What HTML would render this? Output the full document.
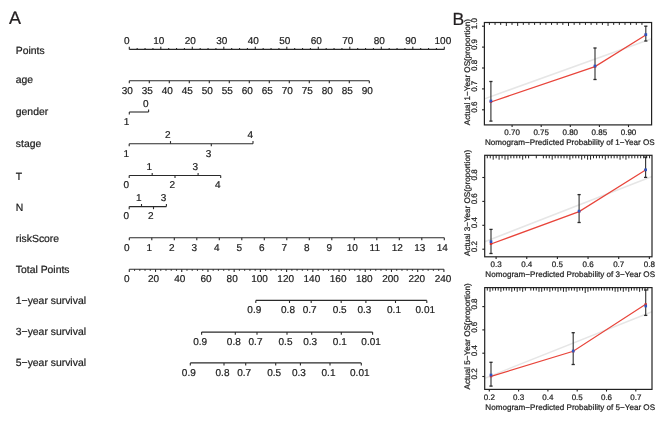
<!DOCTYPE html>
<html><head><meta charset="utf-8"><style>
html,body{margin:0;padding:0;background:#fff;}
body{width:669px;height:424px;overflow:hidden;}
svg{display:block;will-change:transform;text-rendering:geometricPrecision;font-family:"Liberation Sans",sans-serif;}
</style></head><body>
<svg width="669" height="424" viewBox="0 0 669 424">
<rect x="0" y="0" width="669" height="424" fill="#fff"/>
<g>
<text x="9.00" y="23.90" font-size="18" text-anchor="start" fill="#231f20" stroke="#231f20" stroke-width="0.22">A</text>
<text x="15.80" y="53.80" font-size="10.4" text-anchor="start" fill="#222" stroke="#222" stroke-width="0.22">Points</text>
<text x="15.80" y="83.30" font-size="10.4" text-anchor="start" fill="#222" stroke="#222" stroke-width="0.22">age</text>
<text x="15.80" y="115.30" font-size="10.4" text-anchor="start" fill="#222" stroke="#222" stroke-width="0.22">gender</text>
<text x="15.80" y="147.00" font-size="10.4" text-anchor="start" fill="#222" stroke="#222" stroke-width="0.22">stage</text>
<text x="15.80" y="179.50" font-size="10.4" text-anchor="start" fill="#222" stroke="#222" stroke-width="0.22">T</text>
<text x="15.80" y="210.60" font-size="10.4" text-anchor="start" fill="#222" stroke="#222" stroke-width="0.22">N</text>
<text x="15.80" y="242.10" font-size="10.4" text-anchor="start" fill="#222" stroke="#222" stroke-width="0.22">riskScore</text>
<text x="15.80" y="273.20" font-size="10.4" text-anchor="start" fill="#222" stroke="#222" stroke-width="0.22">Total Points</text>
<text x="15.80" y="303.70" font-size="10.4" text-anchor="start" fill="#222" stroke="#222" stroke-width="0.22">1−year survival</text>
<text x="15.80" y="334.90" font-size="10.4" text-anchor="start" fill="#222" stroke="#222" stroke-width="0.22">3−year survival</text>
<text x="15.80" y="366.30" font-size="10.4" text-anchor="start" fill="#222" stroke="#222" stroke-width="0.22">5−year survival</text>
<line x1="129.30" y1="49.40" x2="444.30" y2="49.40" stroke="#2a2a2a" stroke-width="1.1"/>
<line x1="129.30" y1="49.40" x2="129.30" y2="46.80" stroke="#2a2a2a" stroke-width="1.1"/>
<text x="126.70" y="44.00" font-size="10" text-anchor="middle" fill="#222" stroke="#222" stroke-width="0.22">0</text>
<line x1="137.18" y1="49.40" x2="137.18" y2="47.90" stroke="#2a2a2a" stroke-width="1.1"/>
<line x1="145.05" y1="49.40" x2="145.05" y2="47.90" stroke="#2a2a2a" stroke-width="1.1"/>
<line x1="152.93" y1="49.40" x2="152.93" y2="47.90" stroke="#2a2a2a" stroke-width="1.1"/>
<line x1="160.80" y1="49.40" x2="160.80" y2="46.80" stroke="#2a2a2a" stroke-width="1.1"/>
<text x="158.80" y="44.00" font-size="10" text-anchor="middle" fill="#222" stroke="#222" stroke-width="0.22">10</text>
<line x1="168.68" y1="49.40" x2="168.68" y2="47.90" stroke="#2a2a2a" stroke-width="1.1"/>
<line x1="176.55" y1="49.40" x2="176.55" y2="47.90" stroke="#2a2a2a" stroke-width="1.1"/>
<line x1="184.43" y1="49.40" x2="184.43" y2="47.90" stroke="#2a2a2a" stroke-width="1.1"/>
<line x1="192.30" y1="49.40" x2="192.30" y2="46.80" stroke="#2a2a2a" stroke-width="1.1"/>
<text x="190.30" y="44.00" font-size="10" text-anchor="middle" fill="#222" stroke="#222" stroke-width="0.22">20</text>
<line x1="200.18" y1="49.40" x2="200.18" y2="47.90" stroke="#2a2a2a" stroke-width="1.1"/>
<line x1="208.05" y1="49.40" x2="208.05" y2="47.90" stroke="#2a2a2a" stroke-width="1.1"/>
<line x1="215.93" y1="49.40" x2="215.93" y2="47.90" stroke="#2a2a2a" stroke-width="1.1"/>
<line x1="223.80" y1="49.40" x2="223.80" y2="46.80" stroke="#2a2a2a" stroke-width="1.1"/>
<text x="221.80" y="44.00" font-size="10" text-anchor="middle" fill="#222" stroke="#222" stroke-width="0.22">30</text>
<line x1="231.68" y1="49.40" x2="231.68" y2="47.90" stroke="#2a2a2a" stroke-width="1.1"/>
<line x1="239.55" y1="49.40" x2="239.55" y2="47.90" stroke="#2a2a2a" stroke-width="1.1"/>
<line x1="247.43" y1="49.40" x2="247.43" y2="47.90" stroke="#2a2a2a" stroke-width="1.1"/>
<line x1="255.30" y1="49.40" x2="255.30" y2="46.80" stroke="#2a2a2a" stroke-width="1.1"/>
<text x="253.30" y="44.00" font-size="10" text-anchor="middle" fill="#222" stroke="#222" stroke-width="0.22">40</text>
<line x1="263.18" y1="49.40" x2="263.18" y2="47.90" stroke="#2a2a2a" stroke-width="1.1"/>
<line x1="271.05" y1="49.40" x2="271.05" y2="47.90" stroke="#2a2a2a" stroke-width="1.1"/>
<line x1="278.93" y1="49.40" x2="278.93" y2="47.90" stroke="#2a2a2a" stroke-width="1.1"/>
<line x1="286.80" y1="49.40" x2="286.80" y2="46.80" stroke="#2a2a2a" stroke-width="1.1"/>
<text x="284.80" y="44.00" font-size="10" text-anchor="middle" fill="#222" stroke="#222" stroke-width="0.22">50</text>
<line x1="294.68" y1="49.40" x2="294.68" y2="47.90" stroke="#2a2a2a" stroke-width="1.1"/>
<line x1="302.55" y1="49.40" x2="302.55" y2="47.90" stroke="#2a2a2a" stroke-width="1.1"/>
<line x1="310.43" y1="49.40" x2="310.43" y2="47.90" stroke="#2a2a2a" stroke-width="1.1"/>
<line x1="318.30" y1="49.40" x2="318.30" y2="46.80" stroke="#2a2a2a" stroke-width="1.1"/>
<text x="316.30" y="44.00" font-size="10" text-anchor="middle" fill="#222" stroke="#222" stroke-width="0.22">60</text>
<line x1="326.18" y1="49.40" x2="326.18" y2="47.90" stroke="#2a2a2a" stroke-width="1.1"/>
<line x1="334.05" y1="49.40" x2="334.05" y2="47.90" stroke="#2a2a2a" stroke-width="1.1"/>
<line x1="341.93" y1="49.40" x2="341.93" y2="47.90" stroke="#2a2a2a" stroke-width="1.1"/>
<line x1="349.80" y1="49.40" x2="349.80" y2="46.80" stroke="#2a2a2a" stroke-width="1.1"/>
<text x="347.80" y="44.00" font-size="10" text-anchor="middle" fill="#222" stroke="#222" stroke-width="0.22">70</text>
<line x1="357.68" y1="49.40" x2="357.68" y2="47.90" stroke="#2a2a2a" stroke-width="1.1"/>
<line x1="365.55" y1="49.40" x2="365.55" y2="47.90" stroke="#2a2a2a" stroke-width="1.1"/>
<line x1="373.43" y1="49.40" x2="373.43" y2="47.90" stroke="#2a2a2a" stroke-width="1.1"/>
<line x1="381.30" y1="49.40" x2="381.30" y2="46.80" stroke="#2a2a2a" stroke-width="1.1"/>
<text x="379.30" y="44.00" font-size="10" text-anchor="middle" fill="#222" stroke="#222" stroke-width="0.22">80</text>
<line x1="389.18" y1="49.40" x2="389.18" y2="47.90" stroke="#2a2a2a" stroke-width="1.1"/>
<line x1="397.05" y1="49.40" x2="397.05" y2="47.90" stroke="#2a2a2a" stroke-width="1.1"/>
<line x1="404.93" y1="49.40" x2="404.93" y2="47.90" stroke="#2a2a2a" stroke-width="1.1"/>
<line x1="412.80" y1="49.40" x2="412.80" y2="46.80" stroke="#2a2a2a" stroke-width="1.1"/>
<text x="410.80" y="44.00" font-size="10" text-anchor="middle" fill="#222" stroke="#222" stroke-width="0.22">90</text>
<line x1="420.68" y1="49.40" x2="420.68" y2="47.90" stroke="#2a2a2a" stroke-width="1.1"/>
<line x1="428.55" y1="49.40" x2="428.55" y2="47.90" stroke="#2a2a2a" stroke-width="1.1"/>
<line x1="436.43" y1="49.40" x2="436.43" y2="47.90" stroke="#2a2a2a" stroke-width="1.1"/>
<line x1="444.30" y1="49.40" x2="444.30" y2="46.80" stroke="#2a2a2a" stroke-width="1.1"/>
<text x="442.90" y="44.00" font-size="10" text-anchor="middle" fill="#222" stroke="#222" stroke-width="0.22">100</text>
<line x1="129.30" y1="80.70" x2="369.30" y2="80.70" stroke="#2a2a2a" stroke-width="1.1"/>
<line x1="129.30" y1="80.70" x2="129.30" y2="83.30" stroke="#2a2a2a" stroke-width="1.1"/>
<text x="127.30" y="93.90" font-size="10" text-anchor="middle" fill="#222" stroke="#222" stroke-width="0.22">30</text>
<line x1="149.30" y1="80.70" x2="149.30" y2="83.30" stroke="#2a2a2a" stroke-width="1.1"/>
<text x="147.30" y="93.90" font-size="10" text-anchor="middle" fill="#222" stroke="#222" stroke-width="0.22">35</text>
<line x1="169.30" y1="80.70" x2="169.30" y2="83.30" stroke="#2a2a2a" stroke-width="1.1"/>
<text x="167.30" y="93.90" font-size="10" text-anchor="middle" fill="#222" stroke="#222" stroke-width="0.22">40</text>
<line x1="189.30" y1="80.70" x2="189.30" y2="83.30" stroke="#2a2a2a" stroke-width="1.1"/>
<text x="187.30" y="93.90" font-size="10" text-anchor="middle" fill="#222" stroke="#222" stroke-width="0.22">45</text>
<line x1="209.30" y1="80.70" x2="209.30" y2="83.30" stroke="#2a2a2a" stroke-width="1.1"/>
<text x="207.30" y="93.90" font-size="10" text-anchor="middle" fill="#222" stroke="#222" stroke-width="0.22">50</text>
<line x1="229.30" y1="80.70" x2="229.30" y2="83.30" stroke="#2a2a2a" stroke-width="1.1"/>
<text x="227.30" y="93.90" font-size="10" text-anchor="middle" fill="#222" stroke="#222" stroke-width="0.22">55</text>
<line x1="249.30" y1="80.70" x2="249.30" y2="83.30" stroke="#2a2a2a" stroke-width="1.1"/>
<text x="247.30" y="93.90" font-size="10" text-anchor="middle" fill="#222" stroke="#222" stroke-width="0.22">60</text>
<line x1="269.30" y1="80.70" x2="269.30" y2="83.30" stroke="#2a2a2a" stroke-width="1.1"/>
<text x="267.30" y="93.90" font-size="10" text-anchor="middle" fill="#222" stroke="#222" stroke-width="0.22">65</text>
<line x1="289.30" y1="80.70" x2="289.30" y2="83.30" stroke="#2a2a2a" stroke-width="1.1"/>
<text x="287.30" y="93.90" font-size="10" text-anchor="middle" fill="#222" stroke="#222" stroke-width="0.22">70</text>
<line x1="309.30" y1="80.70" x2="309.30" y2="83.30" stroke="#2a2a2a" stroke-width="1.1"/>
<text x="307.30" y="93.90" font-size="10" text-anchor="middle" fill="#222" stroke="#222" stroke-width="0.22">75</text>
<line x1="329.30" y1="80.70" x2="329.30" y2="83.30" stroke="#2a2a2a" stroke-width="1.1"/>
<text x="327.30" y="93.90" font-size="10" text-anchor="middle" fill="#222" stroke="#222" stroke-width="0.22">80</text>
<line x1="349.30" y1="80.70" x2="349.30" y2="83.30" stroke="#2a2a2a" stroke-width="1.1"/>
<text x="347.30" y="93.90" font-size="10" text-anchor="middle" fill="#222" stroke="#222" stroke-width="0.22">85</text>
<line x1="369.30" y1="80.70" x2="369.30" y2="83.30" stroke="#2a2a2a" stroke-width="1.1"/>
<text x="367.30" y="93.90" font-size="10" text-anchor="middle" fill="#222" stroke="#222" stroke-width="0.22">90</text>
<line x1="129.30" y1="112.00" x2="148.60" y2="112.00" stroke="#2a2a2a" stroke-width="1.1"/>
<line x1="129.30" y1="112.00" x2="129.30" y2="114.60" stroke="#2a2a2a" stroke-width="1.1"/>
<text x="126.50" y="124.60" font-size="10" text-anchor="middle" fill="#222" stroke="#222" stroke-width="0.22">1</text>
<line x1="148.60" y1="112.00" x2="148.60" y2="109.40" stroke="#2a2a2a" stroke-width="1.1"/>
<text x="145.80" y="106.60" font-size="10" text-anchor="middle" fill="#222" stroke="#222" stroke-width="0.22">0</text>
<line x1="129.20" y1="143.70" x2="253.00" y2="143.70" stroke="#2a2a2a" stroke-width="1.1"/>
<line x1="129.20" y1="143.70" x2="129.20" y2="146.30" stroke="#2a2a2a" stroke-width="1.1"/>
<text x="126.40" y="156.50" font-size="10" text-anchor="middle" fill="#222" stroke="#222" stroke-width="0.22">1</text>
<line x1="170.50" y1="143.70" x2="170.50" y2="141.10" stroke="#2a2a2a" stroke-width="1.1"/>
<text x="167.70" y="137.80" font-size="10" text-anchor="middle" fill="#222" stroke="#222" stroke-width="0.22">2</text>
<line x1="211.30" y1="143.70" x2="211.30" y2="146.30" stroke="#2a2a2a" stroke-width="1.1"/>
<text x="208.50" y="156.50" font-size="10" text-anchor="middle" fill="#222" stroke="#222" stroke-width="0.22">3</text>
<line x1="253.00" y1="143.70" x2="253.00" y2="141.10" stroke="#2a2a2a" stroke-width="1.1"/>
<text x="250.20" y="137.80" font-size="10" text-anchor="middle" fill="#222" stroke="#222" stroke-width="0.22">4</text>
<line x1="129.20" y1="175.50" x2="220.70" y2="175.50" stroke="#2a2a2a" stroke-width="1.1"/>
<line x1="129.20" y1="175.50" x2="129.20" y2="178.10" stroke="#2a2a2a" stroke-width="1.1"/>
<text x="126.40" y="188.10" font-size="10" text-anchor="middle" fill="#222" stroke="#222" stroke-width="0.22">0</text>
<line x1="152.20" y1="175.50" x2="152.20" y2="172.90" stroke="#2a2a2a" stroke-width="1.1"/>
<text x="149.40" y="169.60" font-size="10" text-anchor="middle" fill="#222" stroke="#222" stroke-width="0.22">1</text>
<line x1="175.00" y1="175.50" x2="175.00" y2="178.10" stroke="#2a2a2a" stroke-width="1.1"/>
<text x="172.20" y="188.10" font-size="10" text-anchor="middle" fill="#222" stroke="#222" stroke-width="0.22">2</text>
<line x1="198.10" y1="175.50" x2="198.10" y2="172.90" stroke="#2a2a2a" stroke-width="1.1"/>
<text x="195.30" y="169.60" font-size="10" text-anchor="middle" fill="#222" stroke="#222" stroke-width="0.22">3</text>
<line x1="220.70" y1="175.50" x2="220.70" y2="178.10" stroke="#2a2a2a" stroke-width="1.1"/>
<text x="217.90" y="188.10" font-size="10" text-anchor="middle" fill="#222" stroke="#222" stroke-width="0.22">4</text>
<line x1="129.20" y1="206.60" x2="166.40" y2="206.60" stroke="#2a2a2a" stroke-width="1.1"/>
<line x1="129.20" y1="206.60" x2="129.20" y2="209.20" stroke="#2a2a2a" stroke-width="1.1"/>
<text x="126.40" y="219.10" font-size="10" text-anchor="middle" fill="#222" stroke="#222" stroke-width="0.22">0</text>
<line x1="141.50" y1="206.60" x2="141.50" y2="204.00" stroke="#2a2a2a" stroke-width="1.1"/>
<text x="138.70" y="201.20" font-size="10" text-anchor="middle" fill="#222" stroke="#222" stroke-width="0.22">1</text>
<line x1="153.50" y1="206.60" x2="153.50" y2="209.20" stroke="#2a2a2a" stroke-width="1.1"/>
<text x="150.70" y="219.10" font-size="10" text-anchor="middle" fill="#222" stroke="#222" stroke-width="0.22">2</text>
<line x1="166.40" y1="206.60" x2="166.40" y2="204.00" stroke="#2a2a2a" stroke-width="1.1"/>
<text x="163.60" y="201.20" font-size="10" text-anchor="middle" fill="#222" stroke="#222" stroke-width="0.22">3</text>
<line x1="129.30" y1="237.70" x2="444.30" y2="237.70" stroke="#2a2a2a" stroke-width="1.1"/>
<line x1="129.30" y1="237.70" x2="129.30" y2="240.30" stroke="#2a2a2a" stroke-width="1.1"/>
<text x="126.70" y="250.50" font-size="10" text-anchor="middle" fill="#222" stroke="#222" stroke-width="0.22">0</text>
<line x1="151.80" y1="237.70" x2="151.80" y2="240.30" stroke="#2a2a2a" stroke-width="1.1"/>
<text x="149.20" y="250.50" font-size="10" text-anchor="middle" fill="#222" stroke="#222" stroke-width="0.22">1</text>
<line x1="174.30" y1="237.70" x2="174.30" y2="240.30" stroke="#2a2a2a" stroke-width="1.1"/>
<text x="171.70" y="250.50" font-size="10" text-anchor="middle" fill="#222" stroke="#222" stroke-width="0.22">2</text>
<line x1="196.80" y1="237.70" x2="196.80" y2="240.30" stroke="#2a2a2a" stroke-width="1.1"/>
<text x="194.20" y="250.50" font-size="10" text-anchor="middle" fill="#222" stroke="#222" stroke-width="0.22">3</text>
<line x1="219.30" y1="237.70" x2="219.30" y2="240.30" stroke="#2a2a2a" stroke-width="1.1"/>
<text x="216.70" y="250.50" font-size="10" text-anchor="middle" fill="#222" stroke="#222" stroke-width="0.22">4</text>
<line x1="241.80" y1="237.70" x2="241.80" y2="240.30" stroke="#2a2a2a" stroke-width="1.1"/>
<text x="239.20" y="250.50" font-size="10" text-anchor="middle" fill="#222" stroke="#222" stroke-width="0.22">5</text>
<line x1="264.30" y1="237.70" x2="264.30" y2="240.30" stroke="#2a2a2a" stroke-width="1.1"/>
<text x="261.70" y="250.50" font-size="10" text-anchor="middle" fill="#222" stroke="#222" stroke-width="0.22">6</text>
<line x1="286.80" y1="237.70" x2="286.80" y2="240.30" stroke="#2a2a2a" stroke-width="1.1"/>
<text x="284.20" y="250.50" font-size="10" text-anchor="middle" fill="#222" stroke="#222" stroke-width="0.22">7</text>
<line x1="309.30" y1="237.70" x2="309.30" y2="240.30" stroke="#2a2a2a" stroke-width="1.1"/>
<text x="306.70" y="250.50" font-size="10" text-anchor="middle" fill="#222" stroke="#222" stroke-width="0.22">8</text>
<line x1="331.80" y1="237.70" x2="331.80" y2="240.30" stroke="#2a2a2a" stroke-width="1.1"/>
<text x="329.20" y="250.50" font-size="10" text-anchor="middle" fill="#222" stroke="#222" stroke-width="0.22">9</text>
<line x1="354.30" y1="237.70" x2="354.30" y2="240.30" stroke="#2a2a2a" stroke-width="1.1"/>
<text x="352.30" y="250.50" font-size="10" text-anchor="middle" fill="#222" stroke="#222" stroke-width="0.22">10</text>
<line x1="376.80" y1="237.70" x2="376.80" y2="240.30" stroke="#2a2a2a" stroke-width="1.1"/>
<text x="374.80" y="250.50" font-size="10" text-anchor="middle" fill="#222" stroke="#222" stroke-width="0.22">11</text>
<line x1="399.30" y1="237.70" x2="399.30" y2="240.30" stroke="#2a2a2a" stroke-width="1.1"/>
<text x="397.30" y="250.50" font-size="10" text-anchor="middle" fill="#222" stroke="#222" stroke-width="0.22">12</text>
<line x1="421.80" y1="237.70" x2="421.80" y2="240.30" stroke="#2a2a2a" stroke-width="1.1"/>
<text x="419.80" y="250.50" font-size="10" text-anchor="middle" fill="#222" stroke="#222" stroke-width="0.22">13</text>
<line x1="444.30" y1="237.70" x2="444.30" y2="240.30" stroke="#2a2a2a" stroke-width="1.1"/>
<text x="442.30" y="250.50" font-size="10" text-anchor="middle" fill="#222" stroke="#222" stroke-width="0.22">14</text>
<line x1="129.30" y1="269.30" x2="443.90" y2="269.30" stroke="#2a2a2a" stroke-width="1.1"/>
<line x1="129.30" y1="269.30" x2="129.30" y2="271.90" stroke="#2a2a2a" stroke-width="1.1"/>
<text x="126.70" y="282.00" font-size="10" text-anchor="middle" fill="#222" stroke="#222" stroke-width="0.22">0</text>
<line x1="134.54" y1="269.30" x2="134.54" y2="270.80" stroke="#2a2a2a" stroke-width="1.1"/>
<line x1="139.79" y1="269.30" x2="139.79" y2="270.80" stroke="#2a2a2a" stroke-width="1.1"/>
<line x1="145.03" y1="269.30" x2="145.03" y2="270.80" stroke="#2a2a2a" stroke-width="1.1"/>
<line x1="150.27" y1="269.30" x2="150.27" y2="270.80" stroke="#2a2a2a" stroke-width="1.1"/>
<line x1="155.52" y1="269.30" x2="155.52" y2="271.90" stroke="#2a2a2a" stroke-width="1.1"/>
<text x="153.52" y="282.00" font-size="10" text-anchor="middle" fill="#222" stroke="#222" stroke-width="0.22">20</text>
<line x1="160.76" y1="269.30" x2="160.76" y2="270.80" stroke="#2a2a2a" stroke-width="1.1"/>
<line x1="166.00" y1="269.30" x2="166.00" y2="270.80" stroke="#2a2a2a" stroke-width="1.1"/>
<line x1="171.25" y1="269.30" x2="171.25" y2="270.80" stroke="#2a2a2a" stroke-width="1.1"/>
<line x1="176.49" y1="269.30" x2="176.49" y2="270.80" stroke="#2a2a2a" stroke-width="1.1"/>
<line x1="181.73" y1="269.30" x2="181.73" y2="271.90" stroke="#2a2a2a" stroke-width="1.1"/>
<text x="179.73" y="282.00" font-size="10" text-anchor="middle" fill="#222" stroke="#222" stroke-width="0.22">40</text>
<line x1="186.98" y1="269.30" x2="186.98" y2="270.80" stroke="#2a2a2a" stroke-width="1.1"/>
<line x1="192.22" y1="269.30" x2="192.22" y2="270.80" stroke="#2a2a2a" stroke-width="1.1"/>
<line x1="197.46" y1="269.30" x2="197.46" y2="270.80" stroke="#2a2a2a" stroke-width="1.1"/>
<line x1="202.70" y1="269.30" x2="202.70" y2="270.80" stroke="#2a2a2a" stroke-width="1.1"/>
<line x1="207.95" y1="269.30" x2="207.95" y2="271.90" stroke="#2a2a2a" stroke-width="1.1"/>
<text x="205.95" y="282.00" font-size="10" text-anchor="middle" fill="#222" stroke="#222" stroke-width="0.22">60</text>
<line x1="213.19" y1="269.30" x2="213.19" y2="270.80" stroke="#2a2a2a" stroke-width="1.1"/>
<line x1="218.43" y1="269.30" x2="218.43" y2="270.80" stroke="#2a2a2a" stroke-width="1.1"/>
<line x1="223.68" y1="269.30" x2="223.68" y2="270.80" stroke="#2a2a2a" stroke-width="1.1"/>
<line x1="228.92" y1="269.30" x2="228.92" y2="270.80" stroke="#2a2a2a" stroke-width="1.1"/>
<line x1="234.16" y1="269.30" x2="234.16" y2="271.90" stroke="#2a2a2a" stroke-width="1.1"/>
<text x="232.16" y="282.00" font-size="10" text-anchor="middle" fill="#222" stroke="#222" stroke-width="0.22">80</text>
<line x1="239.41" y1="269.30" x2="239.41" y2="270.80" stroke="#2a2a2a" stroke-width="1.1"/>
<line x1="244.65" y1="269.30" x2="244.65" y2="270.80" stroke="#2a2a2a" stroke-width="1.1"/>
<line x1="249.89" y1="269.30" x2="249.89" y2="270.80" stroke="#2a2a2a" stroke-width="1.1"/>
<line x1="255.14" y1="269.30" x2="255.14" y2="270.80" stroke="#2a2a2a" stroke-width="1.1"/>
<line x1="260.38" y1="269.30" x2="260.38" y2="271.90" stroke="#2a2a2a" stroke-width="1.1"/>
<text x="259.48" y="282.00" font-size="10" text-anchor="middle" fill="#222" stroke="#222" stroke-width="0.22">100</text>
<line x1="265.62" y1="269.30" x2="265.62" y2="270.80" stroke="#2a2a2a" stroke-width="1.1"/>
<line x1="270.87" y1="269.30" x2="270.87" y2="270.80" stroke="#2a2a2a" stroke-width="1.1"/>
<line x1="276.11" y1="269.30" x2="276.11" y2="270.80" stroke="#2a2a2a" stroke-width="1.1"/>
<line x1="281.35" y1="269.30" x2="281.35" y2="270.80" stroke="#2a2a2a" stroke-width="1.1"/>
<line x1="286.60" y1="269.30" x2="286.60" y2="271.90" stroke="#2a2a2a" stroke-width="1.1"/>
<text x="285.70" y="282.00" font-size="10" text-anchor="middle" fill="#222" stroke="#222" stroke-width="0.22">120</text>
<line x1="291.84" y1="269.30" x2="291.84" y2="270.80" stroke="#2a2a2a" stroke-width="1.1"/>
<line x1="297.08" y1="269.30" x2="297.08" y2="270.80" stroke="#2a2a2a" stroke-width="1.1"/>
<line x1="302.33" y1="269.30" x2="302.33" y2="270.80" stroke="#2a2a2a" stroke-width="1.1"/>
<line x1="307.57" y1="269.30" x2="307.57" y2="270.80" stroke="#2a2a2a" stroke-width="1.1"/>
<line x1="312.81" y1="269.30" x2="312.81" y2="271.90" stroke="#2a2a2a" stroke-width="1.1"/>
<text x="311.91" y="282.00" font-size="10" text-anchor="middle" fill="#222" stroke="#222" stroke-width="0.22">140</text>
<line x1="318.06" y1="269.30" x2="318.06" y2="270.80" stroke="#2a2a2a" stroke-width="1.1"/>
<line x1="323.30" y1="269.30" x2="323.30" y2="270.80" stroke="#2a2a2a" stroke-width="1.1"/>
<line x1="328.54" y1="269.30" x2="328.54" y2="270.80" stroke="#2a2a2a" stroke-width="1.1"/>
<line x1="333.78" y1="269.30" x2="333.78" y2="270.80" stroke="#2a2a2a" stroke-width="1.1"/>
<line x1="339.03" y1="269.30" x2="339.03" y2="271.90" stroke="#2a2a2a" stroke-width="1.1"/>
<text x="338.13" y="282.00" font-size="10" text-anchor="middle" fill="#222" stroke="#222" stroke-width="0.22">160</text>
<line x1="344.27" y1="269.30" x2="344.27" y2="270.80" stroke="#2a2a2a" stroke-width="1.1"/>
<line x1="349.51" y1="269.30" x2="349.51" y2="270.80" stroke="#2a2a2a" stroke-width="1.1"/>
<line x1="354.76" y1="269.30" x2="354.76" y2="270.80" stroke="#2a2a2a" stroke-width="1.1"/>
<line x1="360.00" y1="269.30" x2="360.00" y2="270.80" stroke="#2a2a2a" stroke-width="1.1"/>
<line x1="365.24" y1="269.30" x2="365.24" y2="271.90" stroke="#2a2a2a" stroke-width="1.1"/>
<text x="364.34" y="282.00" font-size="10" text-anchor="middle" fill="#222" stroke="#222" stroke-width="0.22">180</text>
<line x1="370.49" y1="269.30" x2="370.49" y2="270.80" stroke="#2a2a2a" stroke-width="1.1"/>
<line x1="375.73" y1="269.30" x2="375.73" y2="270.80" stroke="#2a2a2a" stroke-width="1.1"/>
<line x1="380.97" y1="269.30" x2="380.97" y2="270.80" stroke="#2a2a2a" stroke-width="1.1"/>
<line x1="386.22" y1="269.30" x2="386.22" y2="270.80" stroke="#2a2a2a" stroke-width="1.1"/>
<line x1="391.46" y1="269.30" x2="391.46" y2="271.90" stroke="#2a2a2a" stroke-width="1.1"/>
<text x="390.56" y="282.00" font-size="10" text-anchor="middle" fill="#222" stroke="#222" stroke-width="0.22">200</text>
<line x1="396.70" y1="269.30" x2="396.70" y2="270.80" stroke="#2a2a2a" stroke-width="1.1"/>
<line x1="401.95" y1="269.30" x2="401.95" y2="270.80" stroke="#2a2a2a" stroke-width="1.1"/>
<line x1="407.19" y1="269.30" x2="407.19" y2="270.80" stroke="#2a2a2a" stroke-width="1.1"/>
<line x1="412.43" y1="269.30" x2="412.43" y2="270.80" stroke="#2a2a2a" stroke-width="1.1"/>
<line x1="417.68" y1="269.30" x2="417.68" y2="271.90" stroke="#2a2a2a" stroke-width="1.1"/>
<text x="416.78" y="282.00" font-size="10" text-anchor="middle" fill="#222" stroke="#222" stroke-width="0.22">220</text>
<line x1="422.92" y1="269.30" x2="422.92" y2="270.80" stroke="#2a2a2a" stroke-width="1.1"/>
<line x1="428.16" y1="269.30" x2="428.16" y2="270.80" stroke="#2a2a2a" stroke-width="1.1"/>
<line x1="433.41" y1="269.30" x2="433.41" y2="270.80" stroke="#2a2a2a" stroke-width="1.1"/>
<line x1="438.65" y1="269.30" x2="438.65" y2="270.80" stroke="#2a2a2a" stroke-width="1.1"/>
<line x1="443.89" y1="269.30" x2="443.89" y2="271.90" stroke="#2a2a2a" stroke-width="1.1"/>
<text x="442.99" y="282.00" font-size="10" text-anchor="middle" fill="#222" stroke="#222" stroke-width="0.22">240</text>
<line x1="255.80" y1="300.40" x2="426.80" y2="300.40" stroke="#2a2a2a" stroke-width="1.1"/>
<line x1="255.80" y1="300.40" x2="255.80" y2="303.00" stroke="#2a2a2a" stroke-width="1.1"/>
<text x="254.30" y="313.00" font-size="10" text-anchor="middle" fill="#222" stroke="#222" stroke-width="0.22">0.9</text>
<line x1="289.50" y1="300.40" x2="289.50" y2="303.00" stroke="#2a2a2a" stroke-width="1.1"/>
<text x="288.00" y="313.00" font-size="10" text-anchor="middle" fill="#222" stroke="#222" stroke-width="0.22">0.8</text>
<line x1="311.20" y1="300.40" x2="311.20" y2="303.00" stroke="#2a2a2a" stroke-width="1.1"/>
<text x="309.70" y="313.00" font-size="10" text-anchor="middle" fill="#222" stroke="#222" stroke-width="0.22">0.7</text>
<line x1="341.20" y1="300.40" x2="341.20" y2="303.00" stroke="#2a2a2a" stroke-width="1.1"/>
<text x="339.70" y="313.00" font-size="10" text-anchor="middle" fill="#222" stroke="#222" stroke-width="0.22">0.5</text>
<line x1="365.90" y1="300.40" x2="365.90" y2="303.00" stroke="#2a2a2a" stroke-width="1.1"/>
<text x="364.40" y="313.00" font-size="10" text-anchor="middle" fill="#222" stroke="#222" stroke-width="0.22">0.3</text>
<line x1="395.50" y1="300.40" x2="395.50" y2="303.00" stroke="#2a2a2a" stroke-width="1.1"/>
<text x="394.00" y="313.00" font-size="10" text-anchor="middle" fill="#222" stroke="#222" stroke-width="0.22">0.1</text>
<line x1="426.80" y1="300.40" x2="426.80" y2="303.00" stroke="#2a2a2a" stroke-width="1.1"/>
<text x="425.30" y="313.00" font-size="10" text-anchor="middle" fill="#222" stroke="#222" stroke-width="0.22">0.01</text>
<line x1="201.60" y1="332.10" x2="372.60" y2="332.10" stroke="#2a2a2a" stroke-width="1.1"/>
<line x1="201.60" y1="332.10" x2="201.60" y2="334.70" stroke="#2a2a2a" stroke-width="1.1"/>
<text x="200.10" y="344.80" font-size="10" text-anchor="middle" fill="#222" stroke="#222" stroke-width="0.22">0.9</text>
<line x1="235.30" y1="332.10" x2="235.30" y2="334.70" stroke="#2a2a2a" stroke-width="1.1"/>
<text x="233.80" y="344.80" font-size="10" text-anchor="middle" fill="#222" stroke="#222" stroke-width="0.22">0.8</text>
<line x1="257.00" y1="332.10" x2="257.00" y2="334.70" stroke="#2a2a2a" stroke-width="1.1"/>
<text x="255.50" y="344.80" font-size="10" text-anchor="middle" fill="#222" stroke="#222" stroke-width="0.22">0.7</text>
<line x1="287.00" y1="332.10" x2="287.00" y2="334.70" stroke="#2a2a2a" stroke-width="1.1"/>
<text x="285.50" y="344.80" font-size="10" text-anchor="middle" fill="#222" stroke="#222" stroke-width="0.22">0.5</text>
<line x1="311.70" y1="332.10" x2="311.70" y2="334.70" stroke="#2a2a2a" stroke-width="1.1"/>
<text x="310.20" y="344.80" font-size="10" text-anchor="middle" fill="#222" stroke="#222" stroke-width="0.22">0.3</text>
<line x1="341.30" y1="332.10" x2="341.30" y2="334.70" stroke="#2a2a2a" stroke-width="1.1"/>
<text x="339.80" y="344.80" font-size="10" text-anchor="middle" fill="#222" stroke="#222" stroke-width="0.22">0.1</text>
<line x1="372.60" y1="332.10" x2="372.60" y2="334.70" stroke="#2a2a2a" stroke-width="1.1"/>
<text x="371.10" y="344.80" font-size="10" text-anchor="middle" fill="#222" stroke="#222" stroke-width="0.22">0.01</text>
<line x1="190.30" y1="362.90" x2="361.30" y2="362.90" stroke="#2a2a2a" stroke-width="1.1"/>
<line x1="190.30" y1="362.90" x2="190.30" y2="365.50" stroke="#2a2a2a" stroke-width="1.1"/>
<text x="188.80" y="375.90" font-size="10" text-anchor="middle" fill="#222" stroke="#222" stroke-width="0.22">0.9</text>
<line x1="224.00" y1="362.90" x2="224.00" y2="365.50" stroke="#2a2a2a" stroke-width="1.1"/>
<text x="222.50" y="375.90" font-size="10" text-anchor="middle" fill="#222" stroke="#222" stroke-width="0.22">0.8</text>
<line x1="245.70" y1="362.90" x2="245.70" y2="365.50" stroke="#2a2a2a" stroke-width="1.1"/>
<text x="244.20" y="375.90" font-size="10" text-anchor="middle" fill="#222" stroke="#222" stroke-width="0.22">0.7</text>
<line x1="275.70" y1="362.90" x2="275.70" y2="365.50" stroke="#2a2a2a" stroke-width="1.1"/>
<text x="274.20" y="375.90" font-size="10" text-anchor="middle" fill="#222" stroke="#222" stroke-width="0.22">0.5</text>
<line x1="300.40" y1="362.90" x2="300.40" y2="365.50" stroke="#2a2a2a" stroke-width="1.1"/>
<text x="298.90" y="375.90" font-size="10" text-anchor="middle" fill="#222" stroke="#222" stroke-width="0.22">0.3</text>
<line x1="330.00" y1="362.90" x2="330.00" y2="365.50" stroke="#2a2a2a" stroke-width="1.1"/>
<text x="328.50" y="375.90" font-size="10" text-anchor="middle" fill="#222" stroke="#222" stroke-width="0.22">0.1</text>
<line x1="361.30" y1="362.90" x2="361.30" y2="365.50" stroke="#2a2a2a" stroke-width="1.1"/>
<text x="359.80" y="375.90" font-size="10" text-anchor="middle" fill="#222" stroke="#222" stroke-width="0.22">0.01</text>
<text x="452.60" y="24.70" font-size="17.6" text-anchor="start" fill="#231f20" stroke="#231f20" stroke-width="0.22">B</text>
<line x1="484.40" y1="98.85" x2="651.60" y2="38.80" stroke="#e6e6e6" stroke-width="1.5"/>
<polyline points="490.90,102.00 595.00,66.60 645.80,34.90" fill="none" stroke="#e8443a" stroke-width="1.2"/>
<line x1="490.90" y1="81.50" x2="490.90" y2="121.10" stroke="#383838" stroke-width="1.15"/>
<line x1="489.30" y1="81.50" x2="492.50" y2="81.50" stroke="#2a2a2a" stroke-width="1.3"/>
<line x1="489.30" y1="121.10" x2="492.50" y2="121.10" stroke="#2a2a2a" stroke-width="1.3"/>
<rect x="489.70" y="101.00" width="2.4" height="2.0" fill="#d8332a"/>
<rect x="489.55" y="99.65" width="2.7" height="2.7" fill="#2f55c0"/>
<line x1="595.00" y1="48.00" x2="595.00" y2="79.50" stroke="#383838" stroke-width="1.15"/>
<line x1="593.40" y1="48.00" x2="596.60" y2="48.00" stroke="#2a2a2a" stroke-width="1.3"/>
<line x1="593.40" y1="79.50" x2="596.60" y2="79.50" stroke="#2a2a2a" stroke-width="1.3"/>
<rect x="593.80" y="65.60" width="2.4" height="2.0" fill="#d8332a"/>
<rect x="593.65" y="64.65" width="2.7" height="2.7" fill="#2f55c0"/>
<line x1="645.80" y1="26.20" x2="645.80" y2="41.00" stroke="#383838" stroke-width="1.15"/>
<line x1="644.20" y1="26.20" x2="647.40" y2="26.20" stroke="#2a2a2a" stroke-width="1.3"/>
<line x1="644.20" y1="41.00" x2="647.40" y2="41.00" stroke="#2a2a2a" stroke-width="1.3"/>
<rect x="644.60" y="33.90" width="2.4" height="2.0" fill="#d8332a"/>
<rect x="644.45" y="33.25" width="2.7" height="2.7" fill="#2f55c0"/>
<line x1="489.40" y1="22.50" x2="489.40" y2="24.90" stroke="#222" stroke-width="1.0"/>
<line x1="495.05" y1="22.50" x2="495.05" y2="24.90" stroke="#222" stroke-width="1.0"/>
<line x1="500.70" y1="22.50" x2="500.70" y2="24.90" stroke="#222" stroke-width="1.0"/>
<line x1="506.35" y1="22.50" x2="506.35" y2="25.90" stroke="#222" stroke-width="1.0"/>
<line x1="512.00" y1="22.50" x2="512.00" y2="24.90" stroke="#222" stroke-width="1.0"/>
<line x1="517.65" y1="22.50" x2="517.65" y2="25.90" stroke="#222" stroke-width="1.0"/>
<line x1="523.30" y1="22.50" x2="523.30" y2="24.90" stroke="#222" stroke-width="1.0"/>
<line x1="528.95" y1="22.50" x2="528.95" y2="24.90" stroke="#222" stroke-width="1.0"/>
<line x1="534.60" y1="22.50" x2="534.60" y2="24.90" stroke="#222" stroke-width="1.0"/>
<line x1="540.25" y1="22.50" x2="540.25" y2="24.90" stroke="#222" stroke-width="1.0"/>
<line x1="545.90" y1="22.50" x2="545.90" y2="24.90" stroke="#222" stroke-width="1.0"/>
<line x1="551.55" y1="22.50" x2="551.55" y2="24.90" stroke="#222" stroke-width="1.0"/>
<line x1="557.20" y1="22.50" x2="557.20" y2="24.90" stroke="#222" stroke-width="1.0"/>
<line x1="562.85" y1="22.50" x2="562.85" y2="24.90" stroke="#222" stroke-width="1.0"/>
<line x1="568.50" y1="22.50" x2="568.50" y2="25.90" stroke="#222" stroke-width="1.0"/>
<line x1="574.15" y1="22.50" x2="574.15" y2="24.90" stroke="#222" stroke-width="1.0"/>
<line x1="579.80" y1="22.50" x2="579.80" y2="24.90" stroke="#222" stroke-width="1.0"/>
<line x1="585.45" y1="22.50" x2="585.45" y2="24.90" stroke="#222" stroke-width="1.0"/>
<line x1="591.10" y1="22.50" x2="591.10" y2="24.90" stroke="#222" stroke-width="1.0"/>
<line x1="596.75" y1="22.50" x2="596.75" y2="24.90" stroke="#222" stroke-width="1.0"/>
<line x1="602.40" y1="22.50" x2="602.40" y2="24.90" stroke="#222" stroke-width="1.0"/>
<line x1="608.05" y1="22.50" x2="608.05" y2="25.90" stroke="#222" stroke-width="1.0"/>
<line x1="613.70" y1="22.50" x2="613.70" y2="24.90" stroke="#222" stroke-width="1.0"/>
<line x1="619.35" y1="22.50" x2="619.35" y2="24.90" stroke="#222" stroke-width="1.0"/>
<line x1="625.00" y1="22.50" x2="625.00" y2="24.90" stroke="#222" stroke-width="1.0"/>
<line x1="630.65" y1="22.50" x2="630.65" y2="24.90" stroke="#222" stroke-width="1.0"/>
<line x1="636.30" y1="22.50" x2="636.30" y2="24.90" stroke="#222" stroke-width="1.0"/>
<line x1="641.95" y1="22.50" x2="641.95" y2="24.90" stroke="#222" stroke-width="1.0"/>
<rect x="484.40" y="22.50" width="167.20" height="102.40" fill="none" stroke="#222" stroke-width="1.2"/>
<line x1="512.10" y1="124.90" x2="512.10" y2="127.10" stroke="#222" stroke-width="1.1"/>
<text x="512.10" y="135.30" font-size="8" text-anchor="middle" fill="#222" stroke="#222" stroke-width="0.22">0.70</text>
<line x1="541.20" y1="124.90" x2="541.20" y2="127.10" stroke="#222" stroke-width="1.1"/>
<text x="541.20" y="135.30" font-size="8" text-anchor="middle" fill="#222" stroke="#222" stroke-width="0.22">0.75</text>
<line x1="570.30" y1="124.90" x2="570.30" y2="127.10" stroke="#222" stroke-width="1.1"/>
<text x="570.30" y="135.30" font-size="8" text-anchor="middle" fill="#222" stroke="#222" stroke-width="0.22">0.80</text>
<line x1="599.40" y1="124.90" x2="599.40" y2="127.10" stroke="#222" stroke-width="1.1"/>
<text x="599.40" y="135.30" font-size="8" text-anchor="middle" fill="#222" stroke="#222" stroke-width="0.22">0.85</text>
<line x1="628.50" y1="124.90" x2="628.50" y2="127.10" stroke="#222" stroke-width="1.1"/>
<text x="628.50" y="135.30" font-size="8" text-anchor="middle" fill="#222" stroke="#222" stroke-width="0.22">0.90</text>
<line x1="482.00" y1="109.80" x2="484.40" y2="109.80" stroke="#222" stroke-width="1.1"/>
<text x="477.40" y="107.20" font-size="8" text-anchor="middle" fill="#222" stroke="#222" stroke-width="0.22" transform="rotate(-90 477.40 107.20)">0.6</text>
<line x1="482.00" y1="88.90" x2="484.40" y2="88.90" stroke="#222" stroke-width="1.1"/>
<text x="477.40" y="86.30" font-size="8" text-anchor="middle" fill="#222" stroke="#222" stroke-width="0.22" transform="rotate(-90 477.40 86.30)">0.7</text>
<line x1="482.00" y1="68.00" x2="484.40" y2="68.00" stroke="#222" stroke-width="1.1"/>
<text x="477.40" y="65.40" font-size="8" text-anchor="middle" fill="#222" stroke="#222" stroke-width="0.22" transform="rotate(-90 477.40 65.40)">0.8</text>
<line x1="482.00" y1="47.10" x2="484.40" y2="47.10" stroke="#222" stroke-width="1.1"/>
<text x="477.40" y="44.50" font-size="8" text-anchor="middle" fill="#222" stroke="#222" stroke-width="0.22" transform="rotate(-90 477.40 44.50)">0.9</text>
<line x1="482.00" y1="26.20" x2="484.40" y2="26.20" stroke="#222" stroke-width="1.1"/>
<text x="477.40" y="23.60" font-size="8" text-anchor="middle" fill="#222" stroke="#222" stroke-width="0.22" transform="rotate(-90 477.40 23.60)">1.0</text>
<text x="485.00" y="145.40" font-size="8.1" text-anchor="start" fill="#222" stroke="#222" stroke-width="0.22">Nomogram−Predicted Probability of 1−Year OS</text>
<text x="469.60" y="125.20" font-size="8.1" text-anchor="start" fill="#222" stroke="#222" stroke-width="0.22" transform="rotate(-90 469.60 125.20)">Actual 1−Year OS(proportion)</text>
<line x1="484.70" y1="241.69" x2="652.00" y2="176.47" stroke="#e6e6e6" stroke-width="1.5"/>
<polyline points="491.00,244.00 579.10,211.60 645.60,170.00" fill="none" stroke="#e8443a" stroke-width="1.2"/>
<line x1="491.00" y1="229.40" x2="491.00" y2="253.50" stroke="#383838" stroke-width="1.15"/>
<line x1="489.40" y1="229.40" x2="492.60" y2="229.40" stroke="#2a2a2a" stroke-width="1.3"/>
<line x1="489.40" y1="253.50" x2="492.60" y2="253.50" stroke="#2a2a2a" stroke-width="1.3"/>
<rect x="489.80" y="243.00" width="2.4" height="2.0" fill="#d8332a"/>
<rect x="489.65" y="240.35" width="2.7" height="2.7" fill="#2f55c0"/>
<line x1="579.10" y1="194.60" x2="579.10" y2="222.50" stroke="#383838" stroke-width="1.15"/>
<line x1="577.50" y1="194.60" x2="580.70" y2="194.60" stroke="#2a2a2a" stroke-width="1.3"/>
<line x1="577.50" y1="222.50" x2="580.70" y2="222.50" stroke="#2a2a2a" stroke-width="1.3"/>
<rect x="577.90" y="210.60" width="2.4" height="2.0" fill="#d8332a"/>
<rect x="577.75" y="209.75" width="2.7" height="2.7" fill="#2f55c0"/>
<line x1="645.60" y1="157.10" x2="645.60" y2="177.40" stroke="#383838" stroke-width="1.15"/>
<line x1="644.00" y1="157.10" x2="647.20" y2="157.10" stroke="#2a2a2a" stroke-width="1.3"/>
<line x1="644.00" y1="177.40" x2="647.20" y2="177.40" stroke="#2a2a2a" stroke-width="1.3"/>
<rect x="644.40" y="169.00" width="2.4" height="2.0" fill="#d8332a"/>
<rect x="644.25" y="168.45" width="2.7" height="2.7" fill="#2f55c0"/>
<line x1="487.30" y1="155.30" x2="487.30" y2="158.30" stroke="#222" stroke-width="1.0"/>
<line x1="490.25" y1="155.30" x2="490.25" y2="158.30" stroke="#222" stroke-width="1.0"/>
<line x1="493.20" y1="155.30" x2="493.20" y2="159.70" stroke="#222" stroke-width="1.0"/>
<line x1="496.15" y1="155.30" x2="496.15" y2="158.30" stroke="#222" stroke-width="1.0"/>
<line x1="499.10" y1="155.30" x2="499.10" y2="159.70" stroke="#222" stroke-width="1.0"/>
<line x1="502.05" y1="155.30" x2="502.05" y2="158.30" stroke="#222" stroke-width="1.0"/>
<line x1="505.00" y1="155.30" x2="505.00" y2="159.70" stroke="#222" stroke-width="1.0"/>
<line x1="507.95" y1="155.30" x2="507.95" y2="159.70" stroke="#222" stroke-width="1.0"/>
<line x1="510.90" y1="155.30" x2="510.90" y2="158.30" stroke="#222" stroke-width="1.0"/>
<line x1="513.85" y1="155.30" x2="513.85" y2="158.30" stroke="#222" stroke-width="1.0"/>
<line x1="516.80" y1="155.30" x2="516.80" y2="158.30" stroke="#222" stroke-width="1.0"/>
<line x1="519.75" y1="155.30" x2="519.75" y2="158.30" stroke="#222" stroke-width="1.0"/>
<line x1="522.70" y1="155.30" x2="522.70" y2="159.70" stroke="#222" stroke-width="1.0"/>
<line x1="525.65" y1="155.30" x2="525.65" y2="158.30" stroke="#222" stroke-width="1.0"/>
<line x1="528.60" y1="155.30" x2="528.60" y2="158.30" stroke="#222" stroke-width="1.0"/>
<line x1="536.30" y1="155.30" x2="536.30" y2="158.30" stroke="#222" stroke-width="1.0"/>
<line x1="543.35" y1="155.30" x2="543.35" y2="158.30" stroke="#222" stroke-width="1.0"/>
<line x1="546.30" y1="155.30" x2="546.30" y2="158.30" stroke="#222" stroke-width="1.0"/>
<line x1="549.25" y1="155.30" x2="549.25" y2="158.30" stroke="#222" stroke-width="1.0"/>
<line x1="552.20" y1="155.30" x2="552.20" y2="159.70" stroke="#222" stroke-width="1.0"/>
<line x1="555.15" y1="155.30" x2="555.15" y2="158.30" stroke="#222" stroke-width="1.0"/>
<line x1="558.10" y1="155.30" x2="558.10" y2="158.30" stroke="#222" stroke-width="1.0"/>
<line x1="561.05" y1="155.30" x2="561.05" y2="158.30" stroke="#222" stroke-width="1.0"/>
<line x1="564.00" y1="155.30" x2="564.00" y2="158.30" stroke="#222" stroke-width="1.0"/>
<line x1="566.95" y1="155.30" x2="566.95" y2="158.30" stroke="#222" stroke-width="1.0"/>
<line x1="569.90" y1="155.30" x2="569.90" y2="159.70" stroke="#222" stroke-width="1.0"/>
<line x1="572.85" y1="155.30" x2="572.85" y2="158.30" stroke="#222" stroke-width="1.0"/>
<line x1="575.80" y1="155.30" x2="575.80" y2="158.30" stroke="#222" stroke-width="1.0"/>
<line x1="578.75" y1="155.30" x2="578.75" y2="158.30" stroke="#222" stroke-width="1.0"/>
<line x1="581.70" y1="155.30" x2="581.70" y2="159.70" stroke="#222" stroke-width="1.0"/>
<line x1="584.65" y1="155.30" x2="584.65" y2="158.30" stroke="#222" stroke-width="1.0"/>
<line x1="587.60" y1="155.30" x2="587.60" y2="159.70" stroke="#222" stroke-width="1.0"/>
<line x1="590.55" y1="155.30" x2="590.55" y2="159.70" stroke="#222" stroke-width="1.0"/>
<line x1="593.50" y1="155.30" x2="593.50" y2="158.30" stroke="#222" stroke-width="1.0"/>
<line x1="596.45" y1="155.30" x2="596.45" y2="158.30" stroke="#222" stroke-width="1.0"/>
<line x1="599.40" y1="155.30" x2="599.40" y2="158.30" stroke="#222" stroke-width="1.0"/>
<line x1="602.35" y1="155.30" x2="602.35" y2="158.30" stroke="#222" stroke-width="1.0"/>
<line x1="605.30" y1="155.30" x2="605.30" y2="159.70" stroke="#222" stroke-width="1.0"/>
<line x1="608.25" y1="155.30" x2="608.25" y2="158.30" stroke="#222" stroke-width="1.0"/>
<line x1="611.20" y1="155.30" x2="611.20" y2="158.30" stroke="#222" stroke-width="1.0"/>
<line x1="614.15" y1="155.30" x2="614.15" y2="158.30" stroke="#222" stroke-width="1.0"/>
<line x1="617.10" y1="155.30" x2="617.10" y2="158.30" stroke="#222" stroke-width="1.0"/>
<line x1="620.05" y1="155.30" x2="620.05" y2="159.70" stroke="#222" stroke-width="1.0"/>
<line x1="623.00" y1="155.30" x2="623.00" y2="158.30" stroke="#222" stroke-width="1.0"/>
<line x1="625.95" y1="155.30" x2="625.95" y2="159.70" stroke="#222" stroke-width="1.0"/>
<line x1="628.90" y1="155.30" x2="628.90" y2="158.30" stroke="#222" stroke-width="1.0"/>
<line x1="631.85" y1="155.30" x2="631.85" y2="158.30" stroke="#222" stroke-width="1.0"/>
<line x1="634.80" y1="155.30" x2="634.80" y2="158.30" stroke="#222" stroke-width="1.0"/>
<line x1="637.75" y1="155.30" x2="637.75" y2="158.30" stroke="#222" stroke-width="1.0"/>
<line x1="640.70" y1="155.30" x2="640.70" y2="158.30" stroke="#222" stroke-width="1.0"/>
<line x1="643.65" y1="155.30" x2="643.65" y2="158.30" stroke="#222" stroke-width="1.0"/>
<line x1="646.60" y1="155.30" x2="646.60" y2="158.30" stroke="#222" stroke-width="1.0"/>
<line x1="649.55" y1="155.30" x2="649.55" y2="158.30" stroke="#222" stroke-width="1.0"/>
<rect x="484.70" y="155.30" width="167.30" height="101.50" fill="none" stroke="#222" stroke-width="1.2"/>
<line x1="496.10" y1="256.80" x2="496.10" y2="259.00" stroke="#222" stroke-width="1.1"/>
<text x="496.10" y="267.20" font-size="8" text-anchor="middle" fill="#222" stroke="#222" stroke-width="0.22">0.3</text>
<line x1="526.75" y1="256.80" x2="526.75" y2="259.00" stroke="#222" stroke-width="1.1"/>
<text x="526.75" y="267.20" font-size="8" text-anchor="middle" fill="#222" stroke="#222" stroke-width="0.22">0.4</text>
<line x1="557.40" y1="256.80" x2="557.40" y2="259.00" stroke="#222" stroke-width="1.1"/>
<text x="557.40" y="267.20" font-size="8" text-anchor="middle" fill="#222" stroke="#222" stroke-width="0.22">0.5</text>
<line x1="588.05" y1="256.80" x2="588.05" y2="259.00" stroke="#222" stroke-width="1.1"/>
<text x="588.05" y="267.20" font-size="8" text-anchor="middle" fill="#222" stroke="#222" stroke-width="0.22">0.6</text>
<line x1="618.70" y1="256.80" x2="618.70" y2="259.00" stroke="#222" stroke-width="1.1"/>
<text x="618.70" y="267.20" font-size="8" text-anchor="middle" fill="#222" stroke="#222" stroke-width="0.22">0.7</text>
<line x1="649.35" y1="256.80" x2="649.35" y2="259.00" stroke="#222" stroke-width="1.1"/>
<text x="649.35" y="267.20" font-size="8" text-anchor="middle" fill="#222" stroke="#222" stroke-width="0.22">0.8</text>
<line x1="482.30" y1="249.20" x2="484.70" y2="249.20" stroke="#222" stroke-width="1.1"/>
<text x="477.40" y="246.60" font-size="8" text-anchor="middle" fill="#222" stroke="#222" stroke-width="0.22" transform="rotate(-90 477.40 246.60)">0.2</text>
<line x1="482.30" y1="225.30" x2="484.70" y2="225.30" stroke="#222" stroke-width="1.1"/>
<text x="477.40" y="222.70" font-size="8" text-anchor="middle" fill="#222" stroke="#222" stroke-width="0.22" transform="rotate(-90 477.40 222.70)">0.4</text>
<line x1="482.30" y1="201.40" x2="484.70" y2="201.40" stroke="#222" stroke-width="1.1"/>
<text x="477.40" y="198.80" font-size="8" text-anchor="middle" fill="#222" stroke="#222" stroke-width="0.22" transform="rotate(-90 477.40 198.80)">0.6</text>
<line x1="482.30" y1="177.50" x2="484.70" y2="177.50" stroke="#222" stroke-width="1.1"/>
<text x="477.40" y="174.90" font-size="8" text-anchor="middle" fill="#222" stroke="#222" stroke-width="0.22" transform="rotate(-90 477.40 174.90)">0.8</text>
<text x="485.30" y="277.30" font-size="8.1" text-anchor="start" fill="#222" stroke="#222" stroke-width="0.22">Nomogram−Predicted Probability of 3−Year OS</text>
<text x="469.60" y="256.00" font-size="8.1" text-anchor="start" fill="#222" stroke="#222" stroke-width="0.22" transform="rotate(-90 469.60 256.00)">Actual 3−Year OS(proportion)</text>
<line x1="484.70" y1="378.33" x2="652.00" y2="311.81" stroke="#e6e6e6" stroke-width="1.5"/>
<polyline points="491.00,376.40 573.20,351.30 645.70,304.20" fill="none" stroke="#e8443a" stroke-width="1.2"/>
<line x1="491.00" y1="362.30" x2="491.00" y2="386.10" stroke="#383838" stroke-width="1.15"/>
<line x1="489.40" y1="362.30" x2="492.60" y2="362.30" stroke="#2a2a2a" stroke-width="1.3"/>
<line x1="489.40" y1="386.10" x2="492.60" y2="386.10" stroke="#2a2a2a" stroke-width="1.3"/>
<rect x="489.80" y="375.40" width="2.4" height="2.0" fill="#d8332a"/>
<rect x="489.65" y="373.65" width="2.7" height="2.7" fill="#2f55c0"/>
<line x1="573.20" y1="332.70" x2="573.20" y2="364.50" stroke="#383838" stroke-width="1.15"/>
<line x1="571.60" y1="332.70" x2="574.80" y2="332.70" stroke="#2a2a2a" stroke-width="1.3"/>
<line x1="571.60" y1="364.50" x2="574.80" y2="364.50" stroke="#2a2a2a" stroke-width="1.3"/>
<rect x="572.00" y="350.30" width="2.4" height="2.0" fill="#d8332a"/>
<rect x="571.85" y="349.65" width="2.7" height="2.7" fill="#2f55c0"/>
<line x1="645.70" y1="290.00" x2="645.70" y2="315.40" stroke="#383838" stroke-width="1.15"/>
<line x1="644.10" y1="290.00" x2="647.30" y2="290.00" stroke="#2a2a2a" stroke-width="1.3"/>
<line x1="644.10" y1="315.40" x2="647.30" y2="315.40" stroke="#2a2a2a" stroke-width="1.3"/>
<rect x="644.50" y="303.20" width="2.4" height="2.0" fill="#d8332a"/>
<rect x="644.35" y="304.65" width="2.7" height="2.7" fill="#2f55c0"/>
<line x1="487.30" y1="287.60" x2="487.30" y2="290.60" stroke="#222" stroke-width="1.0"/>
<line x1="490.02" y1="287.60" x2="490.02" y2="291.80" stroke="#222" stroke-width="1.0"/>
<line x1="492.74" y1="287.60" x2="492.74" y2="290.60" stroke="#222" stroke-width="1.0"/>
<line x1="495.46" y1="287.60" x2="495.46" y2="290.60" stroke="#222" stroke-width="1.0"/>
<line x1="498.18" y1="287.60" x2="498.18" y2="290.60" stroke="#222" stroke-width="1.0"/>
<line x1="500.90" y1="287.60" x2="500.90" y2="291.80" stroke="#222" stroke-width="1.0"/>
<line x1="503.62" y1="287.60" x2="503.62" y2="290.60" stroke="#222" stroke-width="1.0"/>
<line x1="506.34" y1="287.60" x2="506.34" y2="290.60" stroke="#222" stroke-width="1.0"/>
<line x1="509.06" y1="287.60" x2="509.06" y2="290.60" stroke="#222" stroke-width="1.0"/>
<line x1="511.78" y1="287.60" x2="511.78" y2="291.80" stroke="#222" stroke-width="1.0"/>
<line x1="514.50" y1="287.60" x2="514.50" y2="290.60" stroke="#222" stroke-width="1.0"/>
<line x1="517.22" y1="287.60" x2="517.22" y2="291.80" stroke="#222" stroke-width="1.0"/>
<line x1="519.94" y1="287.60" x2="519.94" y2="290.60" stroke="#222" stroke-width="1.0"/>
<line x1="522.66" y1="287.60" x2="522.66" y2="291.80" stroke="#222" stroke-width="1.0"/>
<line x1="525.38" y1="287.60" x2="525.38" y2="290.60" stroke="#222" stroke-width="1.0"/>
<line x1="530.82" y1="287.60" x2="530.82" y2="290.60" stroke="#222" stroke-width="1.0"/>
<line x1="533.54" y1="287.60" x2="533.54" y2="290.60" stroke="#222" stroke-width="1.0"/>
<line x1="536.26" y1="287.60" x2="536.26" y2="290.60" stroke="#222" stroke-width="1.0"/>
<line x1="538.98" y1="287.60" x2="538.98" y2="291.80" stroke="#222" stroke-width="1.0"/>
<line x1="541.70" y1="287.60" x2="541.70" y2="291.80" stroke="#222" stroke-width="1.0"/>
<line x1="544.42" y1="287.60" x2="544.42" y2="290.60" stroke="#222" stroke-width="1.0"/>
<line x1="547.14" y1="287.60" x2="547.14" y2="290.60" stroke="#222" stroke-width="1.0"/>
<line x1="549.86" y1="287.60" x2="549.86" y2="291.80" stroke="#222" stroke-width="1.0"/>
<line x1="552.58" y1="287.60" x2="552.58" y2="290.60" stroke="#222" stroke-width="1.0"/>
<line x1="555.30" y1="287.60" x2="555.30" y2="290.60" stroke="#222" stroke-width="1.0"/>
<line x1="558.02" y1="287.60" x2="558.02" y2="291.80" stroke="#222" stroke-width="1.0"/>
<line x1="560.74" y1="287.60" x2="560.74" y2="290.60" stroke="#222" stroke-width="1.0"/>
<line x1="563.46" y1="287.60" x2="563.46" y2="291.80" stroke="#222" stroke-width="1.0"/>
<line x1="566.18" y1="287.60" x2="566.18" y2="291.80" stroke="#222" stroke-width="1.0"/>
<line x1="568.90" y1="287.60" x2="568.90" y2="290.60" stroke="#222" stroke-width="1.0"/>
<line x1="571.62" y1="287.60" x2="571.62" y2="290.60" stroke="#222" stroke-width="1.0"/>
<line x1="574.34" y1="287.60" x2="574.34" y2="290.60" stroke="#222" stroke-width="1.0"/>
<line x1="577.06" y1="287.60" x2="577.06" y2="291.80" stroke="#222" stroke-width="1.0"/>
<line x1="579.78" y1="287.60" x2="579.78" y2="290.60" stroke="#222" stroke-width="1.0"/>
<line x1="582.50" y1="287.60" x2="582.50" y2="290.60" stroke="#222" stroke-width="1.0"/>
<line x1="585.22" y1="287.60" x2="585.22" y2="293.00" stroke="#222" stroke-width="1.0"/>
<line x1="587.94" y1="287.60" x2="587.94" y2="291.80" stroke="#222" stroke-width="1.0"/>
<line x1="590.66" y1="287.60" x2="590.66" y2="290.60" stroke="#222" stroke-width="1.0"/>
<line x1="593.38" y1="287.60" x2="593.38" y2="290.60" stroke="#222" stroke-width="1.0"/>
<line x1="596.10" y1="287.60" x2="596.10" y2="290.60" stroke="#222" stroke-width="1.0"/>
<line x1="598.82" y1="287.60" x2="598.82" y2="290.60" stroke="#222" stroke-width="1.0"/>
<line x1="601.54" y1="287.60" x2="601.54" y2="290.60" stroke="#222" stroke-width="1.0"/>
<line x1="604.26" y1="287.60" x2="604.26" y2="290.60" stroke="#222" stroke-width="1.0"/>
<line x1="606.98" y1="287.60" x2="606.98" y2="290.60" stroke="#222" stroke-width="1.0"/>
<line x1="609.70" y1="287.60" x2="609.70" y2="290.60" stroke="#222" stroke-width="1.0"/>
<line x1="612.42" y1="287.60" x2="612.42" y2="290.60" stroke="#222" stroke-width="1.0"/>
<line x1="615.14" y1="287.60" x2="615.14" y2="291.80" stroke="#222" stroke-width="1.0"/>
<line x1="617.86" y1="287.60" x2="617.86" y2="291.80" stroke="#222" stroke-width="1.0"/>
<line x1="620.58" y1="287.60" x2="620.58" y2="290.60" stroke="#222" stroke-width="1.0"/>
<line x1="623.30" y1="287.60" x2="623.30" y2="291.80" stroke="#222" stroke-width="1.0"/>
<line x1="626.02" y1="287.60" x2="626.02" y2="290.60" stroke="#222" stroke-width="1.0"/>
<line x1="628.74" y1="287.60" x2="628.74" y2="291.80" stroke="#222" stroke-width="1.0"/>
<line x1="631.46" y1="287.60" x2="631.46" y2="290.60" stroke="#222" stroke-width="1.0"/>
<line x1="634.18" y1="287.60" x2="634.18" y2="290.60" stroke="#222" stroke-width="1.0"/>
<line x1="636.90" y1="287.60" x2="636.90" y2="290.60" stroke="#222" stroke-width="1.0"/>
<line x1="639.62" y1="287.60" x2="639.62" y2="291.80" stroke="#222" stroke-width="1.0"/>
<line x1="642.34" y1="287.60" x2="642.34" y2="290.60" stroke="#222" stroke-width="1.0"/>
<line x1="645.06" y1="287.60" x2="645.06" y2="290.60" stroke="#222" stroke-width="1.0"/>
<line x1="647.78" y1="287.60" x2="647.78" y2="290.60" stroke="#222" stroke-width="1.0"/>
<rect x="484.70" y="287.60" width="167.30" height="101.80" fill="none" stroke="#222" stroke-width="1.2"/>
<line x1="489.30" y1="389.40" x2="489.30" y2="391.60" stroke="#222" stroke-width="1.1"/>
<text x="489.30" y="399.80" font-size="8" text-anchor="middle" fill="#222" stroke="#222" stroke-width="0.22">0.2</text>
<line x1="518.60" y1="389.40" x2="518.60" y2="391.60" stroke="#222" stroke-width="1.1"/>
<text x="518.60" y="399.80" font-size="8" text-anchor="middle" fill="#222" stroke="#222" stroke-width="0.22">0.3</text>
<line x1="547.90" y1="389.40" x2="547.90" y2="391.60" stroke="#222" stroke-width="1.1"/>
<text x="547.90" y="399.80" font-size="8" text-anchor="middle" fill="#222" stroke="#222" stroke-width="0.22">0.4</text>
<line x1="577.20" y1="389.40" x2="577.20" y2="391.60" stroke="#222" stroke-width="1.1"/>
<text x="577.20" y="399.80" font-size="8" text-anchor="middle" fill="#222" stroke="#222" stroke-width="0.22">0.5</text>
<line x1="606.50" y1="389.40" x2="606.50" y2="391.60" stroke="#222" stroke-width="1.1"/>
<text x="606.50" y="399.80" font-size="8" text-anchor="middle" fill="#222" stroke="#222" stroke-width="0.22">0.6</text>
<line x1="635.80" y1="389.40" x2="635.80" y2="391.60" stroke="#222" stroke-width="1.1"/>
<text x="635.80" y="399.80" font-size="8" text-anchor="middle" fill="#222" stroke="#222" stroke-width="0.22">0.7</text>
<line x1="482.30" y1="376.50" x2="484.70" y2="376.50" stroke="#222" stroke-width="1.1"/>
<text x="477.40" y="373.90" font-size="8" text-anchor="middle" fill="#222" stroke="#222" stroke-width="0.22" transform="rotate(-90 477.40 373.90)">0.2</text>
<line x1="482.30" y1="353.20" x2="484.70" y2="353.20" stroke="#222" stroke-width="1.1"/>
<text x="477.40" y="350.60" font-size="8" text-anchor="middle" fill="#222" stroke="#222" stroke-width="0.22" transform="rotate(-90 477.40 350.60)">0.4</text>
<line x1="482.30" y1="329.90" x2="484.70" y2="329.90" stroke="#222" stroke-width="1.1"/>
<text x="477.40" y="327.30" font-size="8" text-anchor="middle" fill="#222" stroke="#222" stroke-width="0.22" transform="rotate(-90 477.40 327.30)">0.6</text>
<line x1="482.30" y1="306.60" x2="484.70" y2="306.60" stroke="#222" stroke-width="1.1"/>
<text x="477.40" y="304.00" font-size="8" text-anchor="middle" fill="#222" stroke="#222" stroke-width="0.22" transform="rotate(-90 477.40 304.00)">0.8</text>
<text x="485.30" y="409.90" font-size="8.1" text-anchor="start" fill="#222" stroke="#222" stroke-width="0.22">Nomogram−Predicted Probability of 5−Year OS</text>
<text x="469.60" y="389.40" font-size="8.1" text-anchor="start" fill="#222" stroke="#222" stroke-width="0.22" transform="rotate(-90 469.60 389.40)">Actual 5−Year OS(proportion)</text>
</g>
</svg>
</body></html>
